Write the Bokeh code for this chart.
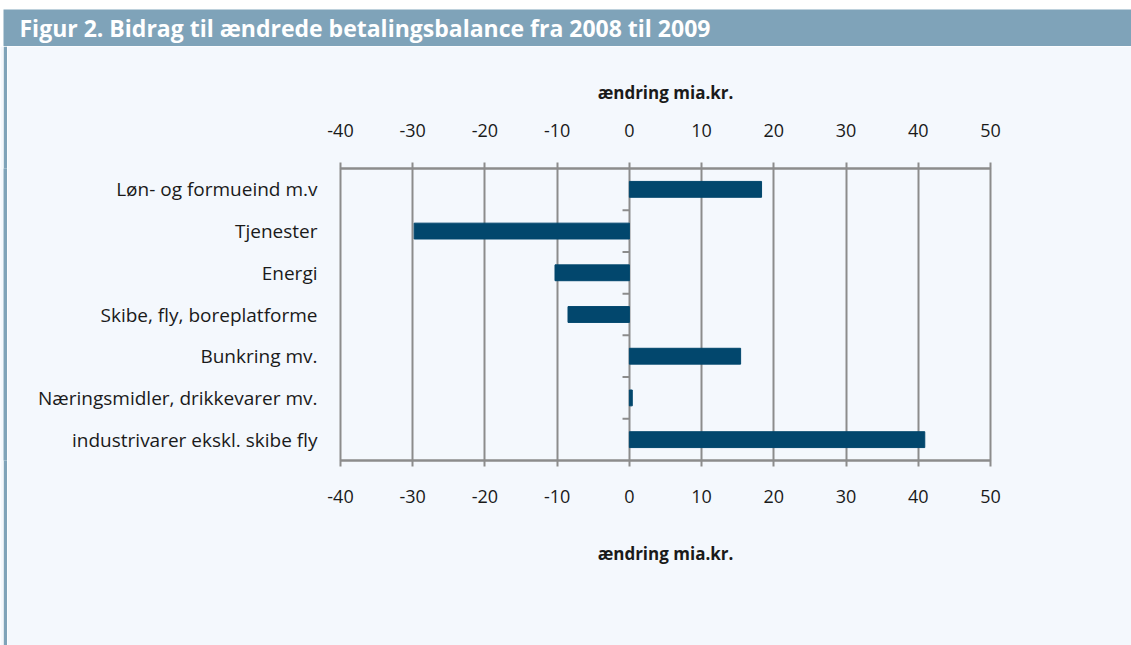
from bokeh.plotting import figure
from bokeh.layouts import column, row
from bokeh.models import LinearAxis, Range1d, FixedTicker
from bokeh.embed import file_html
from bokeh.resources import INLINE
from bokeh.core.properties import value

title_text = "Figur 2. Bidrag til ændrede betalingsbalance fra 2008 til 2009"
categories = [
    "Løn- og formueind m.v",
    "Tjenester",
    "Energi",
    "Skibe, fly, boreplatforme",
    "Bunkring mv.",
    "Næringsmidler, drikkevarer mv.",
    "industrivarer ekskl. skibe fly",
]
values = [18.3, -29.8, -10.3, -8.5, 15.4, 0.4, 40.9]
x_ticks = [-40, -30, -20, -10, 0, 10, 20, 30, 40, 50]
axis_title = "ændring mia.kr."

BAR = "#02476D"
BG = "#F4F8FD"
HEAD = "#7FA3B9"
GRID = "#8C8C8C"
TXT = "#1a1a1a"
FONT = "Open Sans"

W = 1131
H = 645
HH = 46      # header height incl. white top strip
MH = H - HH


def blank(width, height, color):
    f = figure(width=width, height=height, x_axis_type=None, y_axis_type=None,
               output_backend="svg", toolbar_location=None, min_border=0)
    f.grid.visible = False
    f.outline_line_color = None
    f.background_fill_color = color
    f.border_fill_color = color
    return f


# ---- header ----
head = figure(width=W, height=HH, x_range=Range1d(0, W), y_range=Range1d(0, HH),
              x_axis_type=None, y_axis_type=None, output_backend="svg",
              toolbar_location=None, min_border=0)
head.grid.visible = False
head.outline_line_color = None
head.background_fill_color = "white"
head.border_fill_color = "white"
head.quad(left=[3], right=[W], bottom=[0], top=[37], color=HEAD, line_color=None)
head.text(x=[19], y=[18.5], text=[title_text], text_font=value(FONT),
          text_font_style="bold", text_font_size="23px", text_color="white",
          text_baseline="middle", text_align="left")

# ---- left margin + stripe ----
gap = blank(3, MH, BG)
stripe = blank(4, MH, HEAD)

# ---- main chart ----
n = len(categories)
ys = list(range(n))[::-1]

p = figure(width=W - 7, height=MH, x_range=Range1d(x_ticks[0], x_ticks[-1]),
           y_range=Range1d(-0.5, n - 0.5), output_backend="svg",
           toolbar_location=None, min_border_left=333, min_border_right=141,
           min_border_top=122, min_border_bottom=185)
p.background_fill_color = BG
p.border_fill_color = BG
p.outline_line_color = GRID
p.outline_line_width = 2

p.hbar(y=ys, left=0, right=values, height=0.38, color=BAR)

# category boundary ticks on the zero axis
bnd = [i + 0.5 for i in range(n - 1)]
p.segment(x0=[-0.95] * len(bnd), x1=[0] * len(bnd), y0=bnd, y1=bnd,
          line_color=GRID, line_width=2)

p.xgrid.ticker = FixedTicker(ticks=x_ticks)
p.xgrid.grid_line_color = GRID
p.xgrid.grid_line_width = 2
p.ygrid.visible = False

top = LinearAxis()
p.add_layout(top, "above")
bottom = p.below[0]

for ax in [top, bottom]:
    ax.ticker = FixedTicker(ticks=x_ticks)
    ax.major_label_overrides = {t: str(t) for t in x_ticks}
    ax.axis_label = axis_title
    ax.axis_line_color = GRID
    ax.axis_line_width = 2
    ax.major_tick_line_color = GRID
    ax.major_tick_line_width = 2
    ax.major_tick_out = 6
    ax.major_tick_in = 0
    ax.minor_tick_line_color = None
    ax.major_label_text_font = FONT
    ax.major_label_text_font_size = "18px"
    ax.major_label_text_color = TXT
    ax.axis_label_text_font = FONT
    ax.axis_label_text_font_style = "bold"
    ax.axis_label_text_font_size = "17px"
    ax.axis_label_text_color = TXT

top.major_label_standoff = 26
top.axis_label_standoff = 17
bottom.major_label_standoff = 23
bottom.axis_label_standoff = 36

p.yaxis.ticker = FixedTicker(ticks=ys)
p.yaxis.major_label_overrides = {y: c for y, c in zip(ys, categories)}
p.yaxis.axis_line_color = None
p.yaxis.major_tick_line_color = None
p.yaxis.minor_tick_line_color = None
p.yaxis.major_tick_out = 0
p.yaxis.major_label_standoff = 23
p.yaxis.major_label_text_font = FONT
p.yaxis.major_label_text_font_size = "19px"
p.yaxis.major_label_text_color = TXT

layout = column(head, row(gap, stripe, p, spacing=0), spacing=0)
open("out.html", "w").write(file_html(layout, INLINE))
